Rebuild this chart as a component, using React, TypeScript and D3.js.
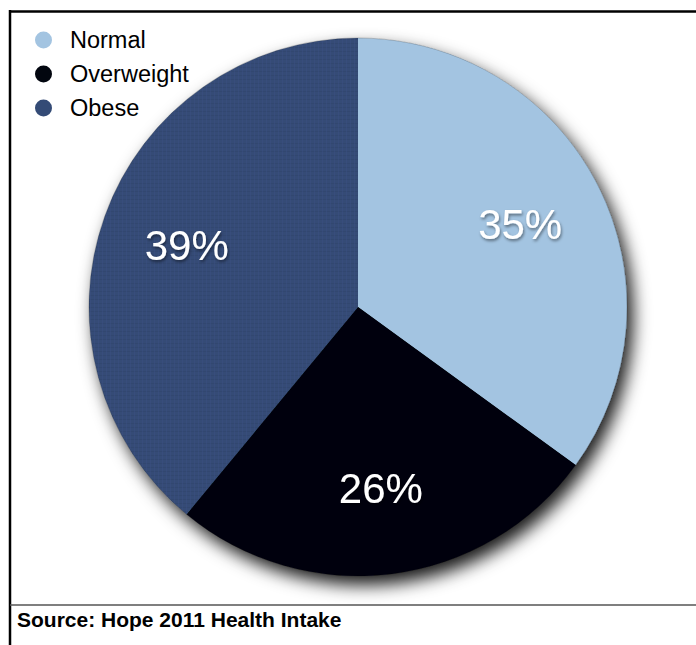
import React from "react";
import * as d3 from "d3";

const categories = ["Normal", "Overweight", "Obese"];
const values = [35, 26, 39];
const colors = ["#a3c4e1", "#02060f", "#344b76"];
const sourceText = "Source: Hope 2011 Health Intake";

const W = 696;
const H = 645;

export default function App() {
  const cx = 358;
  const cy = 307;
  const r = 269;
  const data = categories.map((c, i) => ({ name: c, value: values[i], color: colors[i] }));
  const pie = d3.pie<any>().sort(null).value((d: any) => d.value);
  const arcs = pie(data);
  const arc = d3.arc<any>().innerRadius(0).outerRadius(r);
  const labelArc = d3.arc<any>().innerRadius(182).outerRadius(182);
  const fontFamily = "'Liberation Sans', Arial, Helvetica, sans-serif";
  const legendY = d3.scaleLinear().domain([0, 2]).range([40, 108]);

  return (
    <svg
      width={W}
      height={H}
      style={{ position: "absolute", left: 0, top: 0, background: "#fff" }}
    >
      <defs>
        <filter id="pieShadow" x="-20%" y="-20%" width="140%" height="140%">
          <feDropShadow dx="6" dy="9" stdDeviation="8.5" floodColor="#000" floodOpacity="0.9" />
        </filter>
        <filter id="txtShadow" x="-20%" y="-20%" width="140%" height="160%">
          <feDropShadow dx="1" dy="2" stdDeviation="1.5" floodColor="#000" floodOpacity="0.45" />
        </filter>
        <pattern id="weave" width="4" height="4" patternUnits="userSpaceOnUse">
          <rect width="4" height="4" fill="#344b76" />
          <rect width="4" height="1" fill="#2f456d" opacity="0.6" />
          <rect width="1" height="4" fill="#3a5281" opacity="0.5" />
        </pattern>
      </defs>

      {/* frame */}
      <line x1={10} y1={11.5} x2={W} y2={11.5} stroke="#000" strokeWidth={2.5} />
      <line x1={10} y1={10} x2={10} y2={H} stroke="#000" strokeWidth={2.5} />
      <line x1={10} y1={605} x2={W} y2={605} stroke="#555" strokeWidth={1.6} />

      {/* pie */}
      <g transform={`translate(${cx},${cy})`}>
        <g filter="url(#pieShadow)">
          {arcs.map((a, i) => (
            <path
              key={categories[i]}
              d={arc(a) as string}
              fill={i === 2 ? "url(#weave)" : a.data.color}
            />
          ))}
        </g>
        <circle r={r} fill="none" stroke="#000" strokeOpacity={0.25} strokeWidth={0.8} />
        {arcs.map((a, i) => {
          const [lx, ly] = labelArc.centroid(a);
          return (
            <text
              key={"l" + i}
              x={lx}
              y={ly + 15}
              textAnchor="middle"
              fill="#fff"
              fontFamily={fontFamily}
              fontSize={42}
              filter="url(#txtShadow)"
            >
              {`${a.data.value}%`}
            </text>
          );
        })}
      </g>

      {/* legend */}
      {categories.map((c, i) => (
        <g key={"lg" + c} transform={`translate(0,${legendY(i)})`}>
          <circle cx={43.5} cy={0} r={8.5} fill={colors[i]} />
          <text x={70} y={7.5} fontFamily={fontFamily} fontSize={23.5} fill="#000">
            {c}
          </text>
        </g>
      ))}

      {/* source */}
      <text x={17} y={627} fontFamily={fontFamily} fontSize={21} fontWeight="bold" fill="#000">
        {sourceText}
      </text>
    </svg>
  );
}
